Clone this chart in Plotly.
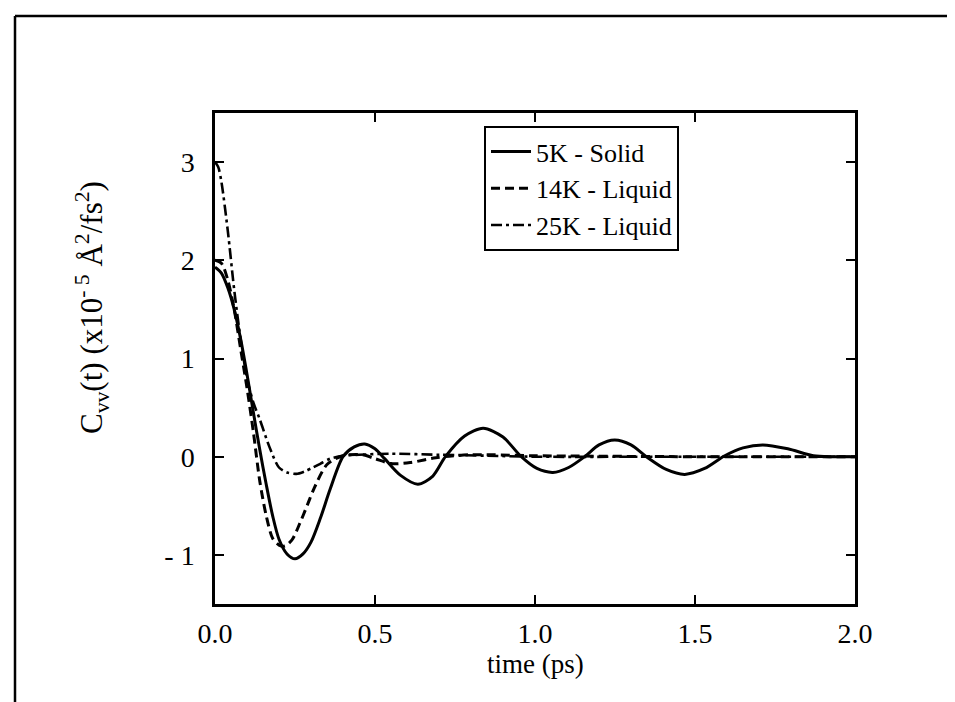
import plotly.graph_objects as go

# ---- data ----
t_solid = [0, 0.02, 0.04, 0.06, 0.08, 0.10, 0.12, 0.14, 0.16, 0.18, 0.20, 0.225, 0.25, 0.275, 0.30,
           0.33, 0.36, 0.40, 0.435, 0.468, 0.50, 0.53, 0.58, 0.634, 0.68, 0.72, 0.78, 0.838, 0.90,
           0.957, 1.006, 1.056, 1.105, 1.155, 1.20, 1.249, 1.30, 1.348, 1.41, 1.468, 1.53, 1.593,
           1.65, 1.712, 1.79, 1.87, 1.93, 2.0]
c_solid = [1.93, 1.87, 1.72, 1.50, 1.20, 0.84, 0.45, 0.07, -0.28, -0.60, -0.84, -0.99, -1.04, -0.99,
           -0.87, -0.62, -0.33, 0.00, 0.10, 0.13, 0.08, -0.02, -0.19, -0.28, -0.20, 0.00, 0.21, 0.29,
           0.20, 0.00, -0.12, -0.16, -0.11, 0.00, 0.12, 0.17, 0.12, 0.00, -0.13, -0.18, -0.12, 0.01,
           0.09, 0.12, 0.08, 0.01, 0.00, 0.00]

t_14k = [0, 0.02, 0.04, 0.06, 0.08, 0.10, 0.12, 0.14, 0.16, 0.18, 0.20, 0.218, 0.24, 0.265, 0.29,
         0.31, 0.35, 0.40, 0.46, 0.50, 0.55, 0.61, 0.69, 0.80, 1.0, 1.5, 2.0]
c_14k = [2.0, 1.97, 1.80, 1.50, 1.10, 0.70, 0.25, -0.25, -0.60, -0.83, -0.90, -0.91, -0.85, -0.68,
         -0.48, -0.32, -0.08, 0.01, 0.02, -0.02, -0.07, -0.06, -0.01, 0.02, 0.01, 0.0, 0.0]

t_25k = [0, 0.01, 0.02, 0.04, 0.06, 0.08, 0.10, 0.12, 0.14, 0.17, 0.20, 0.225, 0.254, 0.28, 0.306,
         0.33, 0.36, 0.40, 0.45, 0.55, 0.70, 0.85, 1.0, 1.5, 2.0]
c_25k = [3.0, 2.95, 2.80, 2.30, 1.70, 1.20, 0.80, 0.55, 0.38, 0.10, -0.11, -0.16, -0.175, -0.15,
         -0.11, -0.07, -0.02, 0.01, 0.02, 0.03, 0.02, 0.01, 0.0, 0.0, 0.0]

series_names = ["5K - Solid", "14K - Liquid", "25K - Liquid"]
x_tickvals = [0.0, 0.5, 1.0, 1.5, 2.0]
x_ticktext = ["0.0", "0.5", "1.0", "1.5", "2.0"]
y_tickvals = [-1, 0, 1, 2, 3]
y_ticktext = ["- 1", "0", "1", "2", "3"]

FONT = "Times New Roman"

fig = go.Figure()
fig.add_trace(go.Scatter(x=t_solid, y=c_solid, mode="lines", name=series_names[0],
                         line=dict(color="black", width=3, shape="spline", smoothing=0.8)))
fig.add_trace(go.Scatter(x=t_14k, y=c_14k, mode="lines", name=series_names[1],
                         line=dict(color="black", width=3, dash="9px,5px", shape="spline", smoothing=0.8)))
fig.add_trace(go.Scatter(x=t_25k, y=c_25k, mode="lines", name=series_names[2],
                         line=dict(color="black", width=2.6, dash="11px,4px,3px,4px", shape="spline", smoothing=0.8)))

L, R, T, B = 207, 108, 105, 106
W, H = 955, 702
pw, ph = W - L - R, H - T - B

def px2x(px):
    return (px - L) / pw

def py2y(py):
    return (H - B - py) / ph

axis_common = dict(showgrid=False, zeroline=False, showline=True, linecolor="black", linewidth=2.5,
                   mirror="ticks", ticks="inside", ticklen=9, tickwidth=2, tickcolor="black",
                   tickfont=dict(family=FONT, size=28, color="black"))

fig.update_xaxes(range=[0, 2.0], tickvals=x_tickvals, ticktext=x_ticktext, ticklabelstandoff=3, **axis_common)
fig.update_yaxes(range=[-1.5, 3.5], tickvals=y_tickvals, ticktext=y_ticktext, ticklabelstandoff=12, **axis_common)

fig.update_layout(
    width=W, height=H,
    margin=dict(l=L, r=R, t=T, b=B, pad=0),
    paper_bgcolor="white", plot_bgcolor="white",
    showlegend=True,
    legend=dict(x=px2x(476), y=py2y(118), xanchor="left", yanchor="top",
                bgcolor="white", bordercolor="black", borderwidth=2,
                font=dict(family=FONT, size=26, color="black"),
                tracegroupgap=0, itemwidth=40),
    annotations=[
        dict(text="time (ps)", x=0.5, y=py2y(656), xref="paper", yref="paper",
             xanchor="center", yanchor="middle",
             showarrow=False, font=dict(family=FONT, size=27, color="black")),
        dict(text="C<sub>vv</sub>(t) (x10<sup>- 5</sup> Å<sup>2</sup>/fs<sup>2</sup>)",
             x=px2x(84), y=py2y(300), xref="paper", yref="paper", textangle=-90,
             xanchor="center", yanchor="middle",
             showarrow=False, font=dict(family=FONT, size=31, color="black")),
    ],
    shapes=[
        dict(type="line", xref="paper", yref="paper", x0=px2x(7), x1=px2x(955),
             y0=py2y(8), y1=py2y(8), line=dict(color="black", width=2.5)),
        dict(type="line", xref="paper", yref="paper", x0=px2x(7), x1=px2x(7),
             y0=py2y(8), y1=py2y(702), line=dict(color="black", width=2.5)),
    ],
)

fig.write_html("out.html")
